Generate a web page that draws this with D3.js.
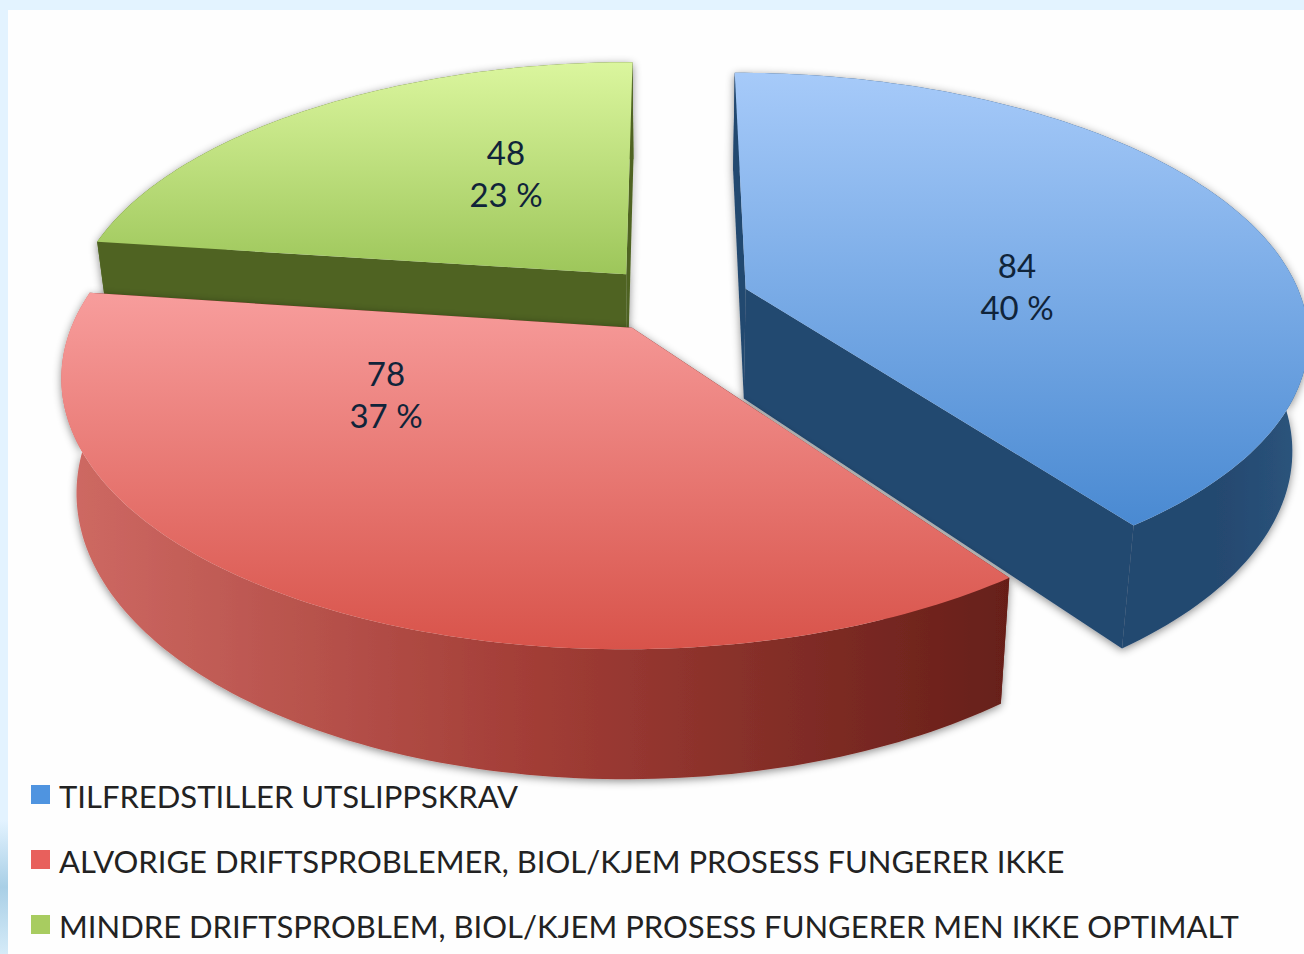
<!DOCTYPE html>
<html>
<head>
<meta charset="utf-8">
<script src="https://cdn.jsdelivr.net/npm/d3@7"></script>
<style>
  html, body { margin: 0; padding: 0; background: #e3f3ff; overflow: hidden; }
  text { font-family: Lato, "Open Sans", sans-serif; }
</style>
</head>
<body>
<svg id="pie3d"></svg>
<script>
const categories = [
  "TILFREDSTILLER UTSLIPPSKRAV",
  "ALVORIGE DRIFTSPROBLEMER, BIOL/KJEM PROSESS FUNGERER IKKE",
  "MINDRE DRIFTSPROBLEM, BIOL/KJEM PROSESS FUNGERER MEN IKKE OPTIMALT"
];
const counts = [84, 78, 48];
const percents = ["40 %", "37 %", "23 %"];

const width = 1304, height = 954;

// explode offset of each slice, in disc units
const explode = [[0.137, -0.04], [-0.067, 0.11], [-0.08, -0.098]];
// red is a little narrower than the others in the original
const radiusX = [1, 0.99, 1];
// where the two line value labels sit
const labelPos = [[1017, 288], [386, 396], [506, 175]];

const topStops = [
  { y1: 75, y2: 523, c: ["#a6caf9", "#4a8ad2"] },
  { y1: 298, y2: 650, c: ["#f79c9b", "#d8534a"] },
  { y1: 62, y2: 275, c: ["#dbf69e", "#9dc65a"] }
];
const wallStops = [
  ["#24486f", "#24486f", "#2b547c"],
  ["#cf6a64", "#a23d36", "#661f19"],
  ["#4f6422", "#4f6422", "#4f6422"]
];
const legendColors = ["#4f94e0", "#e8605c", "#a8cc60"];

const svg = d3.select("#pie3d").attr("width", width).attr("height", height);
const defs = svg.append("defs");

// projection of the disc onto the page
const Xv = 670, Yc = 299, A = 556, B = 256, k = 0.17;
function projectTop(u, v) {
  const w = 1 - k * v;
  return [Xv + (A * u) / w, Yc + (B * v) / w];
}
function toBottom(p) {
  return [Xv + (p[0] - Xv) * 0.975, 1.056 * p[1] + 93.6];
}
function rimPoint(i, a) {
  return projectTop(explode[i][0] + radiusX[i] * Math.sin(a), explode[i][1] - Math.cos(a));
}

const slices = d3.pie().sort(null)(counts);
const line = d3.line();

// background
svg.append("rect").attr("width", width).attr("height", height).attr("fill", "#e3f3ff");
const swirl = defs.append("linearGradient").attr("id", "swirl").attr("x1", 0).attr("x2", 0).attr("y1", 0).attr("y2", 1);
swirl.append("stop").attr("offset", 0).attr("stop-color", "#e3f3ff");
swirl.append("stop").attr("offset", 0.5).attr("stop-color", "#a9cfe6");
swirl.append("stop").attr("offset", 1).attr("stop-color", "#d5ebf8");
svg.append("rect").attr("y", 820).attr("width", 8).attr("height", 134).attr("fill", "url(#swirl)");
svg.append("rect").attr("x", 8).attr("y", 10).attr("width", width - 8).attr("height", height - 10).attr("fill", "#fefefe");

const shadow = defs.append("filter").attr("id", "shadow")
  .attr("x", "-5%").attr("y", "-5%").attr("width", "110%").attr("height", "110%");
shadow.append("feDropShadow").attr("dx", 0).attr("dy", 2).attr("stdDeviation", 4)
  .attr("flood-color", "#000").attr("flood-opacity", 0.45);

slices.forEach((s, i) => {
  const t = defs.append("linearGradient").attr("id", "top" + i)
    .attr("gradientUnits", "userSpaceOnUse")
    .attr("x1", 0).attr("x2", 0).attr("y1", topStops[i].y1).attr("y2", topStops[i].y2);
  t.append("stop").attr("offset", 0).attr("stop-color", topStops[i].c[0]);
  t.append("stop").attr("offset", 1).attr("stop-color", topStops[i].c[1]);

  const w = defs.append("linearGradient").attr("id", "wall" + i)
    .attr("gradientUnits", "userSpaceOnUse")
    .attr("x1", i === 0 ? 1130 : 60).attr("x2", i === 0 ? 1300 : 1010).attr("y1", 0).attr("y2", 0);
  w.append("stop").attr("offset", 0).attr("stop-color", wallStops[i][0]);
  w.append("stop").attr("offset", 0.5).attr("stop-color", wallStops[i][1]);
  w.append("stop").attr("offset", 1).attr("stop-color", wallStops[i][2]);
});

// back slices first, red lies over the other two
[2, 0, 1].forEach((i) => {
  const s = slices[i];
  const angles = d3.range(0, 121).map((n) => s.startAngle + ((s.endAngle - s.startAngle) * n) / 120);
  const rim = angles.map((a) => rimPoint(i, a));
  const apex = projectTop(explode[i][0], explode[i][1]);
  const g = svg.append("g");

  const walls = g.append("g").attr("filter", "url(#shadow)");
  // cut faces go under the round wall
  const faceColor = wallStops[i][i === 1 ? 2 : 0];
  [rim[0], rim[rim.length - 1]].forEach((p) => {
    walls.append("path")
      .attr("d", line([apex, p, toBottom(p), toBottom(apex)]) + "Z")
      .attr("fill", faceColor);
  });
  walls.append("path")
    .attr("d", line(rim.concat(rim.map(toBottom).reverse())) + "Z")
    .attr("fill", `url(#wall${i})`);

  g.append("path")
    .attr("d", line([apex].concat(rim)) + "Z")
    .attr("fill", `url(#top${i})`);

  g.append("text")
    .attr("x", labelPos[i][0]).attr("y", labelPos[i][1] - 10)
    .attr("text-anchor", "middle").attr("font-size", 33).attr("fill", "#10243a")
    .text(s.data);
  g.append("text")
    .attr("x", labelPos[i][0]).attr("y", labelPos[i][1] + 32)
    .attr("text-anchor", "middle").attr("font-size", 33).attr("fill", "#10243a")
    .text(percents[i]);
});

// legend
const rowY = d3.scalePoint().domain(d3.range(categories.length)).range([795, 925]);
categories.forEach((c, i) => {
  svg.append("rect")
    .attr("x", 31).attr("y", rowY(i) - 10).attr("width", 19).attr("height", 19)
    .attr("fill", legendColors[i]);
  svg.append("text")
    .attr("x", 59).attr("y", rowY(i) + 13)
    .attr("font-size", 31).attr("fill", "#222")
    .text(c);
});
</script>
</body>
</html>
